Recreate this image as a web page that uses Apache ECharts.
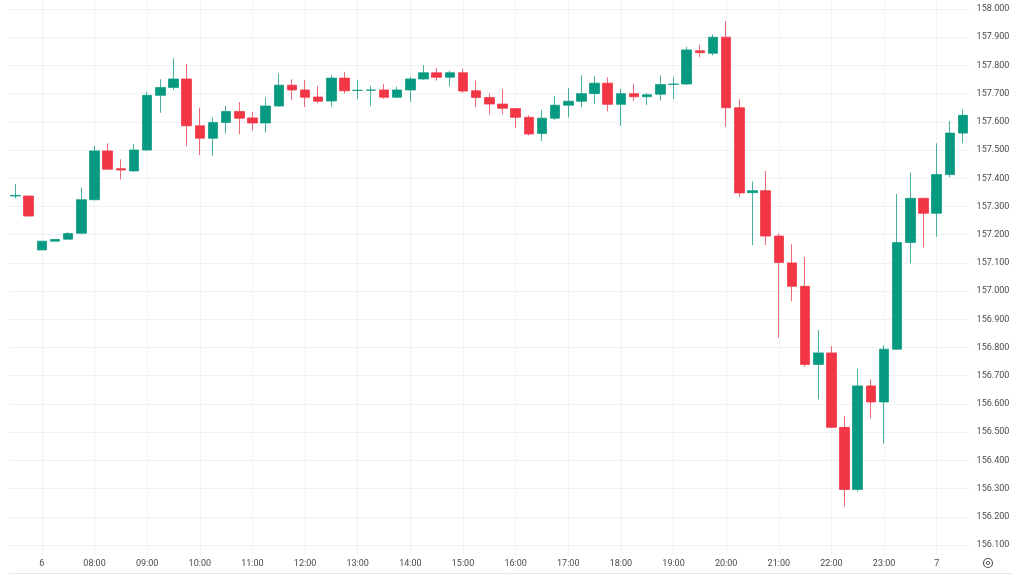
<!DOCTYPE html>
<html>
<head>
<meta charset="utf-8">
<script src="https://cdn.jsdelivr.net/npm/echarts@6/dist/echarts.min.js"></script>
<style>
  html, body { margin: 0; padding: 0; background: #ffffff; }
  #chart { width: 1024px; height: 576px; }
</style>
</head>
<body>
<div id="chart"></div>
<script>
// 15-minute bars, 06:30 -> 00:30
const categories = [
  "06:30","06:45","07:00","07:15","07:30","07:45","08:00","08:15","08:30","08:45",
  "09:00","09:15","09:30","09:45","10:00","10:15","10:30","10:45","11:00","11:15",
  "11:30","11:45","12:00","12:15","12:30","12:45","13:00","13:15","13:30","13:45",
  "14:00","14:15","14:30","14:45","15:00","15:15","15:30","15:45","16:00","16:15",
  "16:30","16:45","17:00","17:15","17:30","17:45","18:00","18:15","18:30","18:45",
  "19:00","19:15","19:30","19:45","20:00","20:15","20:30","20:45","21:00","21:15",
  "21:30","21:45","22:00","22:15","22:30","22:45","23:00","23:15","23:30","23:45",
  "00:00","00:15","00:30"
];

const openValues = [
  157.337,157.337,157.146,157.177,157.184,157.205,157.324,157.497,157.434,157.426,
  157.500,157.694,157.722,157.752,157.586,157.542,157.598,157.637,157.614,157.596,
  157.656,157.730,157.713,157.688,157.674,157.755,157.711,157.712,157.713,157.687,
  157.713,157.752,157.774,157.758,157.774,157.710,157.686,157.663,157.647,157.616,
  157.559,157.613,157.659,157.673,157.700,157.737,157.662,157.700,157.689,157.698,
  157.733,157.734,157.852,157.843,157.900,157.650,157.349,157.356,157.195,157.100,
  157.017,156.740,156.781,156.517,156.297,156.664,156.607,156.794,157.172,157.329,
  157.276,157.413,157.560
];
const closeValues = [
  157.339,157.266,157.177,157.183,157.204,157.324,157.497,157.432,157.429,157.500,
  157.694,157.722,157.752,157.586,157.542,157.598,157.637,157.613,157.596,157.656,
  157.730,157.713,157.687,157.673,157.755,157.710,157.712,157.713,157.687,157.713,
  157.752,157.774,157.758,157.774,157.709,157.686,157.663,157.648,157.616,157.557,
  157.613,157.659,157.673,157.700,157.737,157.662,157.700,157.689,157.696,157.732,
  157.734,157.855,157.845,157.900,157.650,157.348,157.356,157.195,157.101,157.017,
  156.740,156.781,156.517,156.297,156.664,156.607,156.794,157.172,157.329,157.276,
  157.413,157.560,157.623
];
const lowValues = [
  157.329,157.265,157.145,157.177,157.184,157.203,157.322,157.430,157.396,157.424,
  157.497,157.632,157.713,157.514,157.482,157.479,157.559,157.556,157.570,157.562,
  157.655,157.677,157.652,157.666,157.654,157.701,157.680,157.656,157.682,157.686,
  157.670,157.748,157.746,157.725,157.703,157.652,157.625,157.627,157.579,157.552,
  157.532,157.607,157.616,157.652,157.664,157.637,157.585,157.673,157.659,157.675,
  157.681,157.731,157.829,157.836,157.583,157.335,157.163,157.163,156.834,156.964,
  156.732,156.616,156.515,156.236,156.289,156.548,156.460,156.793,157.098,157.155,
  157.193,157.403,157.524
];
const highValues = [
  157.379,157.338,157.178,157.184,157.209,157.367,157.514,157.524,157.467,157.521,
  157.707,157.751,157.825,157.805,157.650,157.615,157.656,157.670,157.635,157.687,
  157.772,157.751,157.748,157.727,157.765,157.777,157.748,157.727,157.734,157.725,
  157.760,157.801,157.791,157.781,157.788,157.746,157.701,157.715,157.648,157.623,
  157.642,157.692,157.719,157.765,157.762,157.758,157.717,157.734,157.703,157.765,
  157.758,157.866,157.873,157.910,157.957,157.680,157.389,157.426,157.205,157.166,
  157.120,156.862,156.805,156.557,156.725,156.687,156.808,157.344,157.420,157.330,
  157.524,157.602,157.643
];

// hour ticks on the time axis and their labels
const tickCategories = ["07:00","08:00","09:00","10:00","11:00","12:00","13:00","14:00","15:00",
  "16:00","17:00","18:00","19:00","20:00","21:00","22:00","23:00","00:00"];
const tickLabels = ["6","08:00","09:00","10:00","11:00","12:00","13:00","14:00","15:00",
  "16:00","17:00","18:00","19:00","20:00","21:00","22:00","23:00","7"];

const priceMin = 156.0645;
const priceMax = 158.0319;

const candleData = categories.map((c, i) => [openValues[i], closeValues[i], lowValues[i], highValues[i]]);

const isTick = (idx, val) => tickCategories.indexOf(val) >= 0;

const chart = echarts.init(document.getElementById('chart'), null, { renderer: 'canvas' });
chart.setOption({
  animation: false,
  backgroundColor: '#ffffff',
  grid: { left: 9, right: 54.4, top: 0, bottom: 21, containLabel: false },
  xAxis: {
    type: 'category',
    data: categories,
    boundaryGap: true,
    axisLine: { show: false },
    axisTick: { show: false },
    axisLabel: {
      interval: isTick,
      formatter: (v) => { const k = tickCategories.indexOf(v); return k >= 0 ? tickLabels[k] : ''; },
      color: '#4a4a4a',
      fontSize: 9,
      fontFamily: 'Roboto, sans-serif',
      margin: 4,
      rich: {}
    },
    splitLine: {
      show: true,
      interval: isTick,
      alignWithLabel: true,
      lineStyle: { color: '#f0f2f6', width: 1 }
    }
  },
  yAxis: {
    type: 'value',
    position: 'right',
    scale: true,
    min: priceMin,
    max: priceMax,
    splitNumber: 20,
    minInterval: 0.1,
    maxInterval: 0.1,
    axisLine: { show: false },
    axisTick: { show: false },
    axisLabel: {
      showMinLabel: false,
      showMaxLabel: false,
      margin: 7,
      color: '#4a4a4a',
      fontSize: 9,
      fontFamily: 'Roboto, sans-serif',
      formatter: (v) => {
        const r = Math.round(v * 10) / 10;
        return Math.abs(r - v) < 1e-6 ? r.toFixed(3) : '';
      }
    },
    splitLine: {
      show: true,
      showMinLine: false,
      showMaxLine: false,
      lineStyle: { color: '#f0f2f6', width: 1 }
    }
  },
  series: [{
    type: 'candlestick',
    data: candleData,
    barWidth: 10,
    itemStyle: {
      color: '#089981',
      color0: '#F23645',
      borderColor: 'rgba(8,153,129,0.75)',
      borderColor0: 'rgba(242,54,69,0.75)',
      borderColorDoji: 'rgba(8,153,129,0.75)',
      borderWidth: 1
    }
  }],
  graphic: [
    { type: 'line', shape: { x1: 9, y1: 573.5, x2: 1012, y2: 573.5 }, style: { stroke: '#e6e8ee', lineWidth: 1 }, silent: true },
    { type: 'circle', shape: { cx: 988, cy: 563, r: 4.5 }, style: { fill: 'none', stroke: '#555', lineWidth: 1.2 }, silent: true },
    { type: 'circle', shape: { cx: 988, cy: 563, r: 1.6 }, style: { fill: 'none', stroke: '#555', lineWidth: 1 }, silent: true }
  ]
});
</script>
</body>
</html>
